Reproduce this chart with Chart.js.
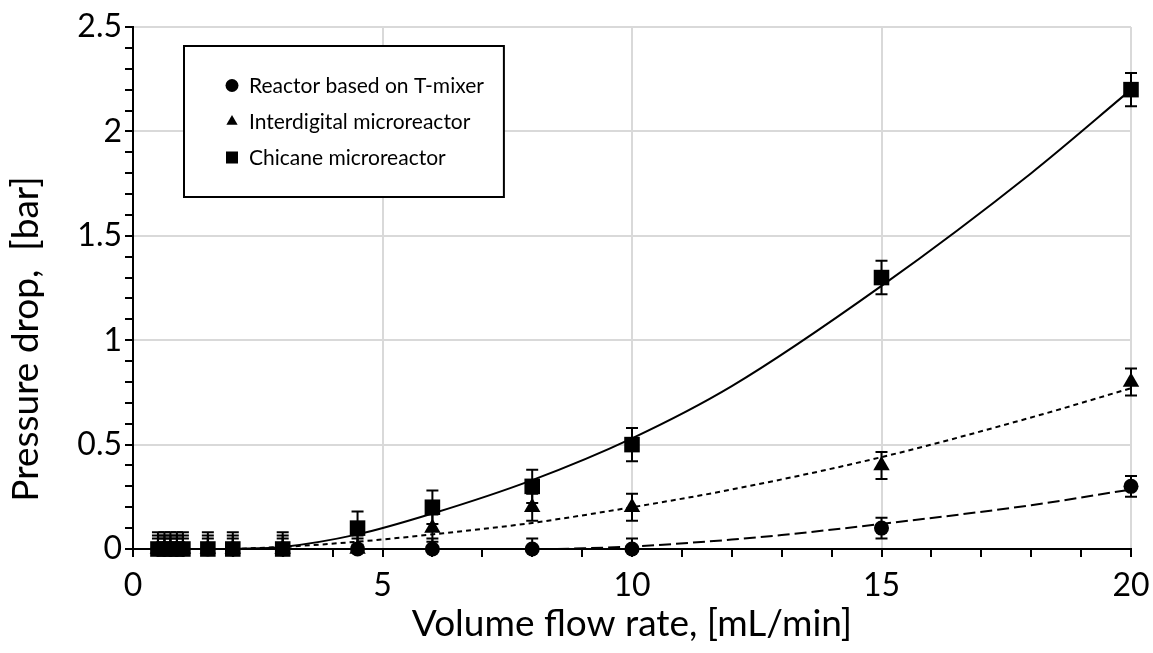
<!DOCTYPE html>
<html lang="en">
<head>
<meta charset="UTF-8">
<title>Pressure drop vs volume flow rate</title>
<style>
  body { margin: 0; background: #fff; }
  .wrap { position: relative; width: 1153px; height: 653px; }
</style>
</head>
<body>
<div class="wrap"><canvas id="chart" width="1153" height="653"></canvas></div>
<script src="https://cdn.jsdelivr.net/npm/chart.js"></script>
<script>
// measured points
const flowRates    = [0.5, 0.63, 0.75, 0.88, 1, 1.5, 2, 3, 4.5, 6, 8, 10, 15, 20];
const tMixer       = [0, 0, 0, 0, 0, 0, 0, 0, 0, 0, 0, 0, 0.1, 0.3];
const interdigital = [0, 0, 0, 0, 0, 0, 0, 0, 0, 0.1, 0.2, 0.2, 0.4, 0.8];
const chicane      = [0, 0, 0, 0, 0, 0, 0, 0, 0.1, 0.2, 0.3, 0.5, 1.3, 2.2];

// error bar half-heights
const tMixerErr       = [0.05, 0.05, 0.05, 0.05, 0.05, 0.05, 0.05, 0.05, 0.05, 0.05, 0.05, 0.05, 0.05, 0.05];
const interdigitalErr = [0.065, 0.065, 0.065, 0.065, 0.065, 0.065, 0.065, 0.065, 0.065, 0.065, 0.065, 0.065, 0.065, 0.065];
const chicaneErr      = [0.08, 0.08, 0.08, 0.08, 0.08, 0.08, 0.08, 0.08, 0.08, 0.08, 0.08, 0.08, 0.08, 0.08];

// trend lines
const tMixerFitX = [8.5, 10, 12, 13, 15, 18, 20];
const tMixerFitY = [0, 0.012, 0.045, 0.067, 0.12, 0.21, 0.285];
const interFitX  = [2, 3, 4.5, 6, 8, 10, 12, 15, 18, 20];
const interFitY  = [0, 0.01, 0.035, 0.07, 0.125, 0.2, 0.285, 0.44, 0.63, 0.77];
const chicFitX   = [2, 3, 4.5, 6, 8, 10, 12, 15, 18, 20];
const chicFitY   = [0, 0.01, 0.07, 0.17, 0.33, 0.53, 0.78, 1.26, 1.8, 2.2];

const xTicks = [0, 5, 10, 15, 20];
const yTicks = [0, 0.5, 1, 1.5, 2, 2.5];

const xTitle = 'Volume flow rate, [mL/min]';
const yTitle = 'Pressure drop,  [bar]';

const FONT = 'Lato, "Open Sans", sans-serif';
Chart.defaults.font.family = FONT;
Chart.defaults.color = '#000';

function pts(xs, ys) {
  return xs.map((x, i) => ({ x: x, y: ys[i] }));
}
function near(list, v) {
  return list.some(t => Math.abs(t - v) < 1e-6);
}

const markerDs = (label, ys, errs, style, radius, order) => ({
  label: label,
  data: pts(flowRates, ys),
  errors: errs,
  pointStyle: style,
  pointRadius: radius,
  pointBackgroundColor: '#000',
  pointBorderColor: '#000',
  pointBorderWidth: 0,
  showLine: false,
  clip: false,
  order: order
});

const fitDs = (xs, ys, dash) => ({
  label: '',
  data: pts(xs, ys),
  showLine: true,
  borderColor: '#000',
  borderWidth: 2,
  borderDash: dash,
  pointRadius: 0,
  cubicInterpolationMode: 'monotone',
  order: 0
});

// vertical error bars, clipped to the plot height like the original
const errorBars = {
  id: 'errorBars',
  afterDatasetDraw(chart, args) {
    const ds = chart.data.datasets[args.index];
    if (!ds.errors) return;
    const xs = chart.scales.x, ys = chart.scales.y, ca = chart.chartArea;
    const ctx = chart.ctx;
    ctx.save();
    ctx.beginPath();
    ctx.rect(0, ca.top - 1, chart.width, ca.bottom - ca.top + 1);
    ctx.clip();
    ctx.strokeStyle = '#000';
    ctx.lineWidth = 2;
    ds.data.forEach((p, i) => {
      const px = xs.getPixelForValue(p.x);
      const top = ys.getPixelForValue(p.y + ds.errors[i]);
      const bot = ys.getPixelForValue(p.y - ds.errors[i]);
      ctx.beginPath();
      ctx.moveTo(px, top); ctx.lineTo(px, bot);
      ctx.moveTo(px - 6, top); ctx.lineTo(px + 6, top);
      ctx.moveTo(px - 6, bot); ctx.lineTo(px + 6, bot);
      ctx.stroke();
    });
    ctx.restore();
  }
};

const boxLegend = {
  id: 'boxLegend',
  afterDraw(chart) {
    const ctx = chart.ctx;
    const items = chart.data.datasets.filter(d => d.errors)
      .sort((a, b) => b.order - a.order);
    const left = 184, top = 46, rowGap = 36, h = 151;
    ctx.save();
    ctx.font = '21px ' + FONT;
    let maxW = 0;
    items.forEach(d => { maxW = Math.max(maxW, ctx.measureText(d.label).width); });
    const w = 249 - left + maxW + 20;
    ctx.fillStyle = '#fff';
    ctx.fillRect(left, top, w, h);
    ctx.strokeStyle = '#000';
    ctx.lineWidth = 2;
    ctx.strokeRect(left, top, w, h);
    const midY = top + h / 2;
    items.forEach((d, i) => {
      const y = midY + (i - 1) * rowGap;
      ctx.fillStyle = '#000';
      Chart.helpers.drawPoint(ctx, {
        pointStyle: d.pointStyle,
        radius: d.pointStyle === 'rect' ? 8.5 : 6.5,
        rotation: 0,
        borderWidth: 0
      }, 232, y);
      ctx.textAlign = 'left';
      ctx.textBaseline = 'middle';
      ctx.fillText(d.label, 249, y + 1);
    });
    ctx.restore();
  }
};

const axisTitles = {
  id: 'axisTitles',
  afterDraw(chart) {
    const ctx = chart.ctx, ca = chart.chartArea;
    ctx.save();
    ctx.fillStyle = '#000';
    ctx.font = '37px ' + FONT;
    ctx.textAlign = 'center';
    ctx.textBaseline = 'alphabetic';
    ctx.fillText(xTitle, (ca.left + ca.right) / 2, 636);
    ctx.translate(38, 339);
    ctx.rotate(-Math.PI / 2);
    ctx.fillText(yTitle, 0, 0);
    ctx.restore();
  }
};

new Chart(document.getElementById('chart'), {
  type: 'scatter',
  data: {
    datasets: [
      markerDs('Chicane microreactor', chicane, chicaneErr, 'rect', 11, 1),
      markerDs('Interdigital microreactor', interdigital, interdigitalErr, 'triangle', 9.5, 2),
      markerDs('Reactor based on T-mixer', tMixer, tMixerErr, 'circle', 7.5, 3),
      fitDs(chicFitX, chicFitY, []),
      fitDs(interFitX, interFitY, [5, 4]),
      fitDs(tMixerFitX, tMixerFitY, [12, 5])
    ]
  },
  options: {
    responsive: false,
    animation: false,
    events: [],
    layout: { padding: { top: 27, right: 22, left: 0, bottom: 0 } },
    plugins: { legend: { display: false }, tooltip: { enabled: false } },
    scales: {
      x: {
        type: 'linear', min: 0, max: 20,
        ticks: {
          stepSize: 1, autoSkip: false, maxRotation: 0, padding: 9,
          font: { size: 32 },
          callback: v => near(xTicks, v) ? String(v) : ''
        },
        grid: {
          color: c => (c.tick && near(xTicks, c.tick.value)) ? '#d9d9d9' : 'rgba(0,0,0,0)',
          lineWidth: 2, tickColor: '#000', tickLength: 8, tickWidth: 2
        },
        border: { color: '#000', width: 2 },
        afterFit: s => { s.height = 104; s.paddingRight = 0; s.paddingLeft = 0; }
      },
      y: {
        type: 'linear', min: 0, max: 2.5,
        ticks: {
          stepSize: 0.1, autoSkip: false, padding: 3,
          font: { size: 32 },
          callback: v => near(yTicks, v) ? String(Math.round(v * 10) / 10) : ''
        },
        grid: {
          color: c => (c.tick && near(yTicks, c.tick.value)) ? '#d9d9d9' : 'rgba(0,0,0,0)',
          lineWidth: 2, tickColor: '#000', tickLength: 8, tickWidth: 2
        },
        border: { color: '#000', width: 2 },
        afterFit: s => { s.width = 133; s.paddingTop = 0; s.paddingBottom = 0; }
      }
    }
  },
  plugins: [errorBars, boxLegend, axisTitles]
});
</script>
</body>
</html>
